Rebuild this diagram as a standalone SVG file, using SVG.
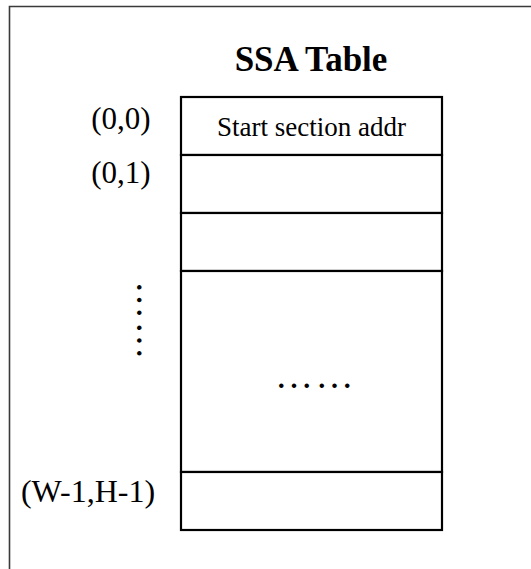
<svg xmlns="http://www.w3.org/2000/svg" width="531" height="569" viewBox="0 0 531 569">
  <style>
    .frame { fill: none; stroke: #3a3a3a; stroke-width: 1.6; }
    .cell { fill: #ffffff; stroke: #000000; stroke-width: 2.2; }
    .title { font-family: "Liberation Serif", "Times New Roman", serif; font-weight: bold; font-size: 35px; fill: #000; }
    .label { font-family: "Liberation Serif", "Times New Roman", serif; font-size: 31px; fill: #000; }
    .content { font-family: "Liberation Serif", "Times New Roman", serif; font-size: 27px; fill: #000; }
    .dots { font-family: "Liberation Serif", "Times New Roman", serif; font-size: 38px; fill: #000; letter-spacing: 2.6px; }
  </style>
  <rect x="0" y="0" width="531" height="569" fill="#ffffff"/>
  <!-- page frame: left and top edges only -->
  <path class="frame" d="M9.5,569 V6.5 H531"/>

  <text class="title" x="311" y="71" text-anchor="middle">SSA Table</text>

  <!-- table rows -->
  <g id="row-0-0">
    <rect class="cell" x="181" y="97" width="261" height="58"/>
    <text class="content" x="311.5" y="136" text-anchor="middle">Start section addr</text>
  </g>
  <g id="row-0-1">
    <rect class="cell" x="181" y="155" width="261" height="58"/>
  </g>
  <g id="row-2">
    <rect class="cell" x="181" y="213" width="261" height="58"/>
  </g>
  <g id="row-middle">
    <rect class="cell" x="181" y="271" width="261" height="201"/>
    <text class="dots" x="275" y="388">……</text>
  </g>
  <g id="row-last">
    <rect class="cell" x="181" y="472" width="261" height="58"/>
  </g>

  <!-- row index labels -->
  <g id="labels">
    <text class="label" x="121" y="129" text-anchor="middle">(0,0)</text>
    <text class="label" x="121" y="183" text-anchor="middle">(0,1)</text>
    <text class="dots" transform="translate(137,281) rotate(90)">……</text>
    <text class="label" x="88" y="502" text-anchor="middle" style="font-size:32px">(W-1,H-1)</text>
  </g>
</svg>
